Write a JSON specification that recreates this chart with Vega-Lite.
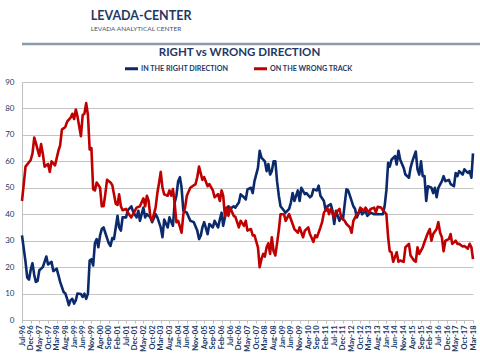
{
  "$schema": "https://vega.github.io/schema/vega-lite/v6.json",
  "background": "white",
  "padding": {"top": 10, "left": 0, "right": 0, "bottom": 0},
  "config": {"font": "Lato", "view": {"stroke": null}},
  "spacing": 0,
  "resolve": {"scale": {"color": "independent"}, "legend": {"color": "independent"}},
  "datasets": {
    "right": [
      {"d":"1996-07-01","v":32},{"d":"1996-08-01","v":27},{"d":"1996-09-01","v":22},{"d":"1996-10-01","v":16},{"d":"1996-11-01","v":15.3},{"d":"1996-12-01","v":19},
      {"d":"1997-01-01","v":21.5},{"d":"1997-02-01","v":17},{"d":"1997-03-01","v":14.4},{"d":"1997-04-01","v":14.8},{"d":"1997-05-01","v":18.8},{"d":"1997-07-01","v":20},{"d":"1997-08-01","v":22},{"d":"1997-09-01","v":24},{"d":"1997-10-01","v":21},{"d":"1997-11-01","v":21.5},{"d":"1997-12-01","v":22},
      {"d":"1998-01-01","v":18.5},{"d":"1998-03-01","v":19.4},{"d":"1998-04-01","v":17},{"d":"1998-05-01","v":14.4},{"d":"1998-07-01","v":10.6},{"d":"1998-08-01","v":10},{"d":"1998-09-01","v":8},{"d":"1998-10-01","v":5.6},{"d":"1998-11-01","v":7.5},{"d":"1998-12-01","v":8},
      {"d":"1999-01-01","v":6.2},{"d":"1999-02-01","v":7.5},{"d":"1999-03-01","v":10},{"d":"1999-05-01","v":9.8},{"d":"1999-06-01","v":8.7},{"d":"1999-07-01","v":10},{"d":"1999-08-01","v":8},{"d":"1999-09-01","v":10},{"d":"1999-10-01","v":22.5},{"d":"1999-11-01","v":23},{"d":"1999-12-01","v":20.6},
      {"d":"2000-01-01","v":29},{"d":"2000-02-01","v":30.6},{"d":"2000-03-01","v":27.5},{"d":"2000-04-01","v":32},{"d":"2000-05-01","v":34.4},{"d":"2000-06-01","v":35},{"d":"2000-07-01","v":33},{"d":"2000-09-01","v":29},{"d":"2000-10-01","v":28},{"d":"2000-11-01","v":31},{"d":"2000-12-01","v":30.6},
      {"d":"2001-01-01","v":35},{"d":"2001-02-01","v":39.4},{"d":"2001-03-01","v":35},{"d":"2001-04-01","v":33.8},{"d":"2001-05-01","v":38.8},{"d":"2001-07-01","v":38.8},{"d":"2001-08-01","v":41.5},{"d":"2001-10-01","v":43},{"d":"2001-11-01","v":41},
      {"d":"2002-01-01","v":38.8},{"d":"2002-02-01","v":41.3},{"d":"2002-03-01","v":37.5},{"d":"2002-05-01","v":42.5},{"d":"2002-06-01","v":38.8},{"d":"2002-07-01","v":40},{"d":"2002-09-01","v":38.8},{"d":"2002-10-01","v":37},{"d":"2002-12-01","v":40},
      {"d":"2003-01-01","v":38.8},{"d":"2003-03-01","v":35},{"d":"2003-04-01","v":31.3},{"d":"2003-05-01","v":38},{"d":"2003-07-01","v":35},{"d":"2003-08-01","v":38.8},{"d":"2003-10-01","v":35.6},{"d":"2003-11-01","v":44.4},{"d":"2003-12-01","v":47},
      {"d":"2004-01-01","v":52.5},{"d":"2004-02-01","v":54},{"d":"2004-03-01","v":50},{"d":"2004-04-01","v":41.3},{"d":"2004-06-01","v":40.6},{"d":"2004-08-01","v":37.5},{"d":"2004-10-01","v":37},{"d":"2004-12-01","v":33.8},
      {"d":"2005-01-01","v":30.6},{"d":"2005-02-01","v":32},{"d":"2005-03-01","v":35},{"d":"2005-04-01","v":37},{"d":"2005-06-01","v":32.5},{"d":"2005-07-01","v":36.3},{"d":"2005-09-01","v":35},{"d":"2005-10-01","v":37.5},{"d":"2005-12-01","v":35},
      {"d":"2006-01-01","v":38},{"d":"2006-02-01","v":40.6},{"d":"2006-03-01","v":35.6},{"d":"2006-05-01","v":42},{"d":"2006-06-01","v":43},{"d":"2006-07-01","v":42},{"d":"2006-09-01","v":43},{"d":"2006-10-01","v":42.5},{"d":"2006-12-01","v":44.4},
      {"d":"2007-01-01","v":47.5},{"d":"2007-03-01","v":46.4},{"d":"2007-04-01","v":45.6},{"d":"2007-05-01","v":49.4},{"d":"2007-07-01","v":50},{"d":"2007-08-01","v":48},{"d":"2007-09-01","v":52.5},{"d":"2007-11-01","v":57.5},{"d":"2007-12-01","v":64},
      {"d":"2008-01-01","v":61.4},{"d":"2008-03-01","v":60},{"d":"2008-04-01","v":56.3},{"d":"2008-05-01","v":59},{"d":"2008-06-01","v":55},{"d":"2008-07-01","v":56.3},{"d":"2008-08-01","v":60},{"d":"2008-09-01","v":60},{"d":"2008-10-01","v":52.5},{"d":"2008-11-01","v":47},{"d":"2008-12-01","v":43},
      {"d":"2009-02-01","v":41.3},{"d":"2009-03-01","v":40.6},{"d":"2009-05-01","v":42},{"d":"2009-06-01","v":44.4},{"d":"2009-07-01","v":48},{"d":"2009-08-01","v":45},{"d":"2009-10-01","v":49},{"d":"2009-11-01","v":45},{"d":"2009-12-01","v":50},
      {"d":"2010-02-01","v":47.6},{"d":"2010-03-01","v":48},{"d":"2010-05-01","v":46.4},{"d":"2010-06-01","v":47},{"d":"2010-07-01","v":49.4},{"d":"2010-09-01","v":49},{"d":"2010-10-01","v":50.8},{"d":"2010-11-01","v":47},
      {"d":"2011-01-01","v":45},{"d":"2011-02-01","v":41.3},{"d":"2011-03-01","v":43},{"d":"2011-05-01","v":43.8},{"d":"2011-06-01","v":41.3},{"d":"2011-07-01","v":36.3},{"d":"2011-08-01","v":41.3},{"d":"2011-10-01","v":37.5},{"d":"2011-11-01","v":39.4},{"d":"2011-12-01","v":38},
      {"d":"2012-01-01","v":43.8},{"d":"2012-02-01","v":49.4},{"d":"2012-03-01","v":49},{"d":"2012-04-01","v":47},{"d":"2012-06-01","v":43},{"d":"2012-07-01","v":42},{"d":"2012-08-01","v":38.8},{"d":"2012-10-01","v":42},{"d":"2012-11-01","v":40},
      {"d":"2013-01-01","v":41.3},{"d":"2013-02-01","v":39.4},{"d":"2013-04-01","v":40.6},{"d":"2013-06-01","v":40},{"d":"2013-08-01","v":40},{"d":"2013-11-01","v":40},{"d":"2013-12-01","v":43},
      {"d":"2014-01-01","v":49},{"d":"2014-02-01","v":59.4},{"d":"2014-03-01","v":58},{"d":"2014-04-01","v":60.6},{"d":"2014-06-01","v":62},{"d":"2014-07-01","v":58.8},{"d":"2014-08-01","v":64},{"d":"2014-09-01","v":60.6},{"d":"2014-11-01","v":57.5},{"d":"2014-12-01","v":55},
      {"d":"2015-02-01","v":53.8},{"d":"2015-03-01","v":57.5},{"d":"2015-04-01","v":60},{"d":"2015-06-01","v":63.7},{"d":"2015-07-01","v":57},{"d":"2015-08-01","v":55},{"d":"2015-09-01","v":60},{"d":"2015-10-01","v":54.4},{"d":"2015-11-01","v":54.4},{"d":"2015-12-01","v":45},
      {"d":"2016-01-01","v":50.6},{"d":"2016-03-01","v":50},{"d":"2016-04-01","v":48},{"d":"2016-05-01","v":50},{"d":"2016-06-01","v":46.4},{"d":"2016-07-01","v":50},{"d":"2016-09-01","v":52.5},{"d":"2016-10-01","v":54.4},{"d":"2016-11-01","v":52.5},
      {"d":"2017-01-01","v":53},{"d":"2017-02-01","v":51.4},{"d":"2017-04-01","v":50.6},{"d":"2017-05-01","v":55.6},{"d":"2017-06-01","v":54.4},{"d":"2017-07-01","v":56.3},{"d":"2017-09-01","v":55},{"d":"2017-10-01","v":57},{"d":"2017-12-01","v":55.6},
      {"d":"2018-01-01","v":56.3},{"d":"2018-02-01","v":53.8},{"d":"2018-03-01","v":63}
    ],
    "wrong": [
      {"d":"1996-07-01","v":45},{"d":"1996-09-01","v":58},{"d":"1996-12-01","v":60.5},
      {"d":"1997-01-01","v":63},{"d":"1997-02-01","v":69},{"d":"1997-03-01","v":67},{"d":"1997-05-01","v":62},{"d":"1997-06-01","v":66.5},{"d":"1997-07-01","v":63},{"d":"1997-08-01","v":58},{"d":"1997-10-01","v":59},{"d":"1997-11-01","v":56},{"d":"1997-12-01","v":60},
      {"d":"1998-02-01","v":58.5},{"d":"1998-04-01","v":64},{"d":"1998-05-01","v":66},{"d":"1998-06-01","v":72},{"d":"1998-08-01","v":73},{"d":"1998-09-01","v":75},{"d":"1998-11-01","v":76.5},{"d":"1998-12-01","v":78},
      {"d":"1999-01-01","v":76},{"d":"1999-02-01","v":79.6},{"d":"1999-03-01","v":77},{"d":"1999-05-01","v":69.5},{"d":"1999-06-01","v":77.5},{"d":"1999-07-01","v":78},{"d":"1999-08-01","v":82},{"d":"1999-09-01","v":77.5},{"d":"1999-10-01","v":64.5},{"d":"1999-11-01","v":65},{"d":"1999-12-01","v":49.5},
      {"d":"2000-01-01","v":49},{"d":"2000-02-01","v":52},{"d":"2000-04-01","v":50},{"d":"2000-05-01","v":43},{"d":"2000-06-01","v":43},{"d":"2000-07-01","v":47.5},{"d":"2000-08-01","v":53},{"d":"2000-10-01","v":52},{"d":"2000-11-01","v":51},
      {"d":"2001-01-01","v":44},{"d":"2001-02-01","v":43.5},{"d":"2001-03-01","v":47.5},{"d":"2001-04-01","v":43},{"d":"2001-05-01","v":41.5},{"d":"2001-07-01","v":42},{"d":"2001-08-01","v":40.6},{"d":"2001-10-01","v":38.8},{"d":"2001-11-01","v":40},
      {"d":"2002-01-01","v":42.5},{"d":"2002-03-01","v":43},{"d":"2002-05-01","v":46},{"d":"2002-06-01","v":43},{"d":"2002-07-01","v":47},{"d":"2002-08-01","v":45},{"d":"2002-09-01","v":38.8},{"d":"2002-10-01","v":37.5},{"d":"2002-12-01","v":42.5},
      {"d":"2003-01-01","v":48},{"d":"2003-02-01","v":52},{"d":"2003-03-01","v":56},{"d":"2003-04-01","v":50},{"d":"2003-05-01","v":47.5},{"d":"2003-07-01","v":47},{"d":"2003-08-01","v":49},{"d":"2003-09-01","v":47},{"d":"2003-10-01","v":49.5},{"d":"2003-11-01","v":44},{"d":"2003-12-01","v":37},
      {"d":"2004-01-01","v":37.5},{"d":"2004-03-01","v":33},{"d":"2004-04-01","v":40},{"d":"2004-05-01","v":42.5},{"d":"2004-06-01","v":47},{"d":"2004-08-01","v":50},{"d":"2004-09-01","v":50.5},{"d":"2004-11-01","v":51.4},{"d":"2004-12-01","v":54},
      {"d":"2005-01-01","v":58},{"d":"2005-03-01","v":53},{"d":"2005-04-01","v":54},{"d":"2005-06-01","v":50.6},{"d":"2005-07-01","v":51.4},{"d":"2005-09-01","v":49},{"d":"2005-10-01","v":46.4},{"d":"2005-12-01","v":47.6},
      {"d":"2006-01-01","v":45},{"d":"2006-02-01","v":49},{"d":"2006-03-01","v":47},{"d":"2006-04-01","v":39},{"d":"2006-05-01","v":42.5},{"d":"2006-06-01","v":39.4},{"d":"2006-07-01","v":42.5},{"d":"2006-09-01","v":39.4},{"d":"2006-10-01","v":39},{"d":"2006-12-01","v":35},
      {"d":"2007-01-01","v":37.5},{"d":"2007-03-01","v":35.6},{"d":"2007-04-01","v":37.5},{"d":"2007-05-01","v":33.8},{"d":"2007-07-01","v":34.4},{"d":"2007-08-01","v":32},{"d":"2007-09-01","v":32},{"d":"2007-11-01","v":27.5},{"d":"2007-12-01","v":20},
      {"d":"2008-01-01","v":23},{"d":"2008-02-01","v":25},{"d":"2008-03-01","v":24},{"d":"2008-04-01","v":27.5},{"d":"2008-05-01","v":29},{"d":"2008-06-01","v":25},{"d":"2008-07-01","v":31.3},{"d":"2008-08-01","v":26},{"d":"2008-09-01","v":24.4},{"d":"2008-10-01","v":29},{"d":"2008-11-01","v":34},{"d":"2008-12-01","v":40},
      {"d":"2009-02-01","v":40},{"d":"2009-03-01","v":37.5},{"d":"2009-05-01","v":40},{"d":"2009-07-01","v":36.3},{"d":"2009-08-01","v":34.4},{"d":"2009-10-01","v":33},{"d":"2009-11-01","v":35},
      {"d":"2010-01-01","v":31.3},{"d":"2010-02-01","v":33.8},{"d":"2010-04-01","v":35},{"d":"2010-05-01","v":32.5},{"d":"2010-07-01","v":29.5},{"d":"2010-08-01","v":32},{"d":"2010-09-01","v":31.3},{"d":"2010-11-01","v":35},{"d":"2010-12-01","v":37},
      {"d":"2011-01-01","v":40.6},{"d":"2011-03-01","v":42.5},{"d":"2011-04-01","v":40},{"d":"2011-05-01","v":42},{"d":"2011-07-01","v":38.8},{"d":"2011-08-01","v":40.6},{"d":"2011-10-01","v":42},{"d":"2011-11-01","v":38.8},
      {"d":"2012-01-01","v":37.5},{"d":"2012-02-01","v":36.3},{"d":"2012-04-01","v":35},{"d":"2012-05-01","v":33},{"d":"2012-06-01","v":37.5},{"d":"2012-08-01","v":40},{"d":"2012-09-01","v":40.6},{"d":"2012-10-01","v":42.5},{"d":"2012-12-01","v":41.3},
      {"d":"2013-01-01","v":42.5},{"d":"2013-03-01","v":40.6},{"d":"2013-04-01","v":42},{"d":"2013-06-01","v":42.5},{"d":"2013-07-01","v":40.6},{"d":"2013-08-01","v":42.8},{"d":"2013-10-01","v":42.5},{"d":"2013-11-01","v":41.5},
      {"d":"2014-01-01","v":40},{"d":"2014-02-01","v":31.3},{"d":"2014-03-01","v":26},{"d":"2014-04-01","v":25.6},{"d":"2014-05-01","v":22},{"d":"2014-07-01","v":25.6},{"d":"2014-08-01","v":22},{"d":"2014-09-01","v":22.5},{"d":"2014-11-01","v":22},{"d":"2014-12-01","v":27.5},
      {"d":"2015-02-01","v":28.8},{"d":"2015-03-01","v":24.4},{"d":"2015-05-01","v":22.5},{"d":"2015-06-01","v":22},{"d":"2015-07-01","v":27.5},{"d":"2015-08-01","v":25},{"d":"2015-10-01","v":27.5},{"d":"2015-11-01","v":29.5},
      {"d":"2016-01-01","v":33},{"d":"2016-02-01","v":34.4},{"d":"2016-03-01","v":30},{"d":"2016-04-01","v":32.5},{"d":"2016-06-01","v":34.4},{"d":"2016-07-01","v":37},{"d":"2016-08-01","v":33},{"d":"2016-09-01","v":31.3},{"d":"2016-10-01","v":26},{"d":"2016-11-01","v":30},
      {"d":"2017-01-01","v":30.6},{"d":"2017-02-01","v":32.5},{"d":"2017-03-01","v":28.8},{"d":"2017-05-01","v":30},{"d":"2017-06-01","v":28.8},{"d":"2017-07-01","v":28.8},{"d":"2017-09-01","v":27.8},{"d":"2017-10-01","v":28},{"d":"2017-12-01","v":27},
      {"d":"2018-01-01","v":28.8},{"d":"2018-02-01","v":27.5},{"d":"2018-03-01","v":23}
    ]
  },
  "vconcat": [
    {
      "width": 480,
      "height": 2,
      "title": {
        "text": "LEVADA-CENTER",
        "subtitle": "LEVADA ANALYTICAL CENTER",
        "anchor": "start",
        "dx": 70,
        "fontSize": 12.5,
        "fontWeight": "bold",
        "color": "#1f3864",
        "subtitleFontSize": 6.5,
        "subtitleColor": "#44546a",
        "subtitlePadding": 3,
        "offset": 10
      },
      "data": {"values": [{"line": 0}]},
      "mark": {"type": "rule", "color": "#8a9bb0", "strokeWidth": 2.5},
      "encoding": {
        "y": {"field": "line", "type": "quantitative", "axis": null, "scale": {"domain": [0, 1]}}
      }
    },
    {
      "width": 451,
      "height": 238,
      "title": {
        "text": "RIGHT vs WRONG DIRECTION",
        "fontSize": 11.5,
        "fontWeight": "bold",
        "color": "#1f3864",
        "anchor": "middle",
        "dx": -8,
        "offset": 2
      },
      "encoding": {
        "x": {
          "field": "d",
          "type": "temporal",
          "title": null,
          "scale": {
            "type": "utc",
            "nice": false,
            "domain": [{"year": 1996, "month": 7, "date": 1, "utc": true}, {"year": 2018, "month": 3, "date": 1, "utc": true}]
          },
          "axis": {
            "labelExpr": "utcFormat(datum.value, '%b-%y')",
            "labelAngle": -90,
            "labelAlign": "right",
            "labelBaseline": "middle",
            "labelFontSize": 7.5,
            "labelFontWeight": "bold",
            "labelColor": "#203864",
            "labelOverlap": false,
            "labelFlush": false,
            "labelPadding": 2,
            "tickSize": 3,
            "tickColor": "#bfbfbf",
            "domainColor": "#bfbfbf",
            "grid": false,
            "values": [
              {"year":1996,"month":7,"date":1,"utc":true},{"year":1996,"month":12,"date":1,"utc":true},{"year":1997,"month":5,"date":1,"utc":true},{"year":1997,"month":10,"date":1,"utc":true},
              {"year":1998,"month":3,"date":1,"utc":true},{"year":1998,"month":8,"date":1,"utc":true},{"year":1999,"month":1,"date":1,"utc":true},{"year":1999,"month":6,"date":1,"utc":true},
              {"year":1999,"month":11,"date":1,"utc":true},{"year":2000,"month":4,"date":1,"utc":true},{"year":2000,"month":9,"date":1,"utc":true},{"year":2001,"month":2,"date":1,"utc":true},
              {"year":2001,"month":7,"date":1,"utc":true},{"year":2001,"month":12,"date":1,"utc":true},{"year":2002,"month":5,"date":1,"utc":true},{"year":2002,"month":10,"date":1,"utc":true},
              {"year":2003,"month":3,"date":1,"utc":true},{"year":2003,"month":8,"date":1,"utc":true},{"year":2004,"month":1,"date":1,"utc":true},{"year":2004,"month":6,"date":1,"utc":true},
              {"year":2004,"month":11,"date":1,"utc":true},{"year":2005,"month":4,"date":1,"utc":true},{"year":2005,"month":9,"date":1,"utc":true},{"year":2006,"month":2,"date":1,"utc":true},
              {"year":2006,"month":7,"date":1,"utc":true},{"year":2006,"month":12,"date":1,"utc":true},{"year":2007,"month":5,"date":1,"utc":true},{"year":2007,"month":10,"date":1,"utc":true},
              {"year":2008,"month":3,"date":1,"utc":true},{"year":2008,"month":8,"date":1,"utc":true},{"year":2009,"month":1,"date":1,"utc":true},{"year":2009,"month":6,"date":1,"utc":true},
              {"year":2009,"month":11,"date":1,"utc":true},{"year":2010,"month":4,"date":1,"utc":true},{"year":2010,"month":9,"date":1,"utc":true},{"year":2011,"month":2,"date":1,"utc":true},
              {"year":2011,"month":7,"date":1,"utc":true},{"year":2011,"month":12,"date":1,"utc":true},{"year":2012,"month":5,"date":1,"utc":true},{"year":2012,"month":10,"date":1,"utc":true},
              {"year":2013,"month":3,"date":1,"utc":true},{"year":2013,"month":8,"date":1,"utc":true},{"year":2014,"month":1,"date":1,"utc":true},{"year":2014,"month":6,"date":1,"utc":true},
              {"year":2014,"month":11,"date":1,"utc":true},{"year":2015,"month":4,"date":1,"utc":true},{"year":2015,"month":9,"date":1,"utc":true},{"year":2016,"month":2,"date":1,"utc":true},
              {"year":2016,"month":7,"date":1,"utc":true},{"year":2016,"month":12,"date":1,"utc":true},{"year":2017,"month":5,"date":1,"utc":true},{"year":2017,"month":10,"date":1,"utc":true},
              {"year":2018,"month":3,"date":1,"utc":true}
            ]
          }
        },
        "y": {
          "field": "v",
          "type": "quantitative",
          "title": null,
          "scale": {"domain": [0, 90], "nice": false},
          "axis": {
            "values": [0, 10, 20, 30, 40, 50, 60, 70, 80, 90],
            "ticks": false,
            "labelPadding": 8,
            "labelFontSize": 8,
            "labelColor": "#1f3864",
            "domainColor": "#bfbfbf",
            "gridColor": "#c4c4c4",
            "minExtent": 22,
            "maxExtent": 22
          }
        },
        "color": {
          "type": "nominal",
          "scale": {
            "domain": ["IN THE RIGHT DIRECTION", "ON THE WRONG TRACK"],
            "range": ["#0b2a6b", "#c00000"]
          },
          "legend": {
            "title": null,
            "orient": "none",
            "legendX": 101,
            "legendY": -22,
            "direction": "horizontal",
            "symbolType": "stroke",
            "symbolStrokeWidth": 3,
            "symbolSize": 170,
            "labelFontSize": 7.2,
            "labelFontWeight": "bold",
            "labelColor": "#1f3864",
            "labelOffset": 1,
            "columnPadding": 18
          }
        }
      },
      "layer": [
        {
          "data": {"name": "right"},
          "mark": {"type": "line", "strokeWidth": 2.6, "strokeJoin": "round"},
          "encoding": {"color": {"datum": "IN THE RIGHT DIRECTION", "type": "nominal"}}
        },
        {
          "data": {"name": "wrong"},
          "mark": {"type": "line", "strokeWidth": 2.6, "strokeJoin": "round"},
          "encoding": {"color": {"datum": "ON THE WRONG TRACK", "type": "nominal"}}
        }
      ]
    }
  ]
}
